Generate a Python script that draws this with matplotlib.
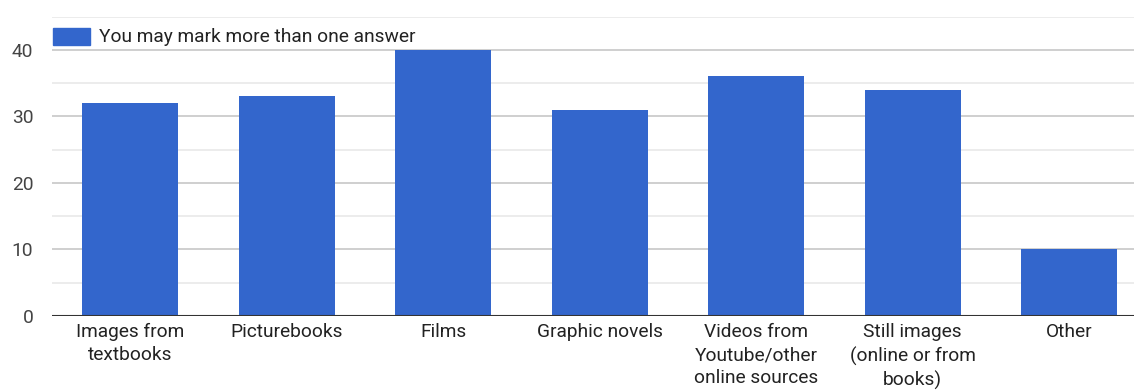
import matplotlib
matplotlib.use("Agg")
import matplotlib.pyplot as plt
from matplotlib.patches import Rectangle

categories = ["Images from\ntextbooks", "Picturebooks", "Films", "Graphic novels",
              "Videos from\nYoutube/other\nonline sources", "Still images\n(online or from\nbooks)", "Other"]
values = [32, 33, 40, 31, 36, 34, 10]
series_name = "You may mark more than one answer"
yticks = [0, 10, 20, 30, 40]
minor_ticks = [5, 15, 25, 35, 45]

plt.rcParams['font.family'] = ['Roboto', 'DejaVu Sans']
W, H = 1134, 390
fig = plt.figure(figsize=(W/100, H/100), dpi=100)
left, right = 52, 1147.5
bottom, top = 316, 16.5
ax = fig.add_axes([left/W, 1 - bottom/H, (right-left)/W, (bottom-top)/H])
ax.set_xlim(-0.5, len(categories) - 0.5)
ax.set_ylim(0, 45)

for y in minor_ticks:
    ax.axhline(y, color="#ebebeb", lw=1.3, zorder=0)
for y in yticks[1:]:
    ax.axhline(y, color="#cccccc", lw=1.3, zorder=0)

x = list(range(len(categories)))
ax.bar(x, values, width=0.613, color="#3366cc", zorder=2)
ax.axhline(0, color="#333333", lw=1.5, zorder=3)

for s in ax.spines.values():
    s.set_visible(False)
ax.set_yticks(yticks)
ax.set_yticklabels([str(v) for v in yticks], fontsize=13.8, color="#444444")
ax.set_xticks(x)
ax.set_xticklabels(categories, fontsize=13.8, color="#222222", linespacing=1.37, va="top")
ax.tick_params(axis="both", length=0)
ax.tick_params(axis="y", pad=13.5)
ax.tick_params(axis="x", pad=5)

# legend
fig.patches.append(Rectangle((53/W, 1 - 45/H), 37/W, 17/H, transform=fig.transFigure,
                             color="#3366cc", zorder=5))
fig.text(99/W, 1 - 37/H, series_name, fontsize=13.8, color="#222222", va="center", ha="left")

fig.savefig("out.png", dpi=100)
